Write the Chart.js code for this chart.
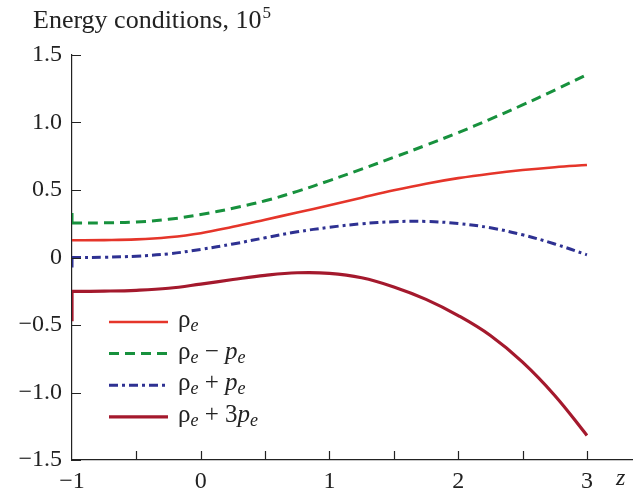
<!DOCTYPE html>
<html>
<head>
<meta charset="utf-8">
<script src="https://cdn.jsdelivr.net/npm/chart.js@4"></script>
<style>
  html, body { margin: 0; padding: 0; background: #fff; }
</style>
</head>
<body>
<canvas id="myChart" width="638" height="495"></canvas>
<script>
// values (units of 10^5)
const zValues = [-1, -0.75, -0.5, -0.25, 0, 0.25, 0.5, 0.75, 1, 1.25, 1.5, 1.75, 2, 2.25, 2.5, 2.75, 3];
const rho = [0.128, 0.129, 0.134, 0.15, 0.18, 0.228, 0.28, 0.333, 0.387, 0.443, 0.498, 0.547, 0.588, 0.621, 0.648, 0.669, 0.685];
const rhoMinusP = [0.256, 0.257, 0.263, 0.283, 0.318, 0.365, 0.42, 0.49, 0.57, 0.655, 0.742, 0.832, 0.925, 1.025, 1.13, 1.24, 1.355];
const rhoPlusP = [0, 0.002, 0.01, 0.027, 0.06, 0.1, 0.146, 0.19, 0.224, 0.25, 0.265, 0.267, 0.252, 0.22, 0.168, 0.1, 0.02];
const rhoPlus3P = [-0.251, -0.249, -0.243, -0.228, -0.197, -0.163, -0.132, -0.113, -0.117, -0.15, -0.218, -0.31, -0.43, -0.578, -0.775, -1.022, -1.318];
// short vertical jump at z = -1 (null = none)
const jumpStart = [null, 0.33, -0.074, -0.473];

const yTickValues = [-1.5, -1, -0.5, 0, 0.5, 1, 1.5];
const yTickLabels = ["\u22121.5", "\u22121.0", "\u22120.5", "0", "0.5", "1.0", "1.5"];
const xTickValues = [-1, 0, 1, 2, 3];
const xTickLabels = ["\u22121", "0", "1", "2", "3"];

const colors = ["#e5352a", "#17913d", "#2e3192", "#a4192d"];
const dashes = [[], [10, 6], [9, 4, 3, 4], []];
const widths = [2.6, 3, 3, 3.2];
const series = [rho, rhoMinusP, rhoPlusP, rhoPlus3P];

// legend text pieces: n = normal, i = italic, s = italic subscript
const legendParts = [
  [["ρ", "n"], ["e", "s"]],
  [["ρ", "n"], ["e", "s"], [" \u2212 ", "n"], ["p", "i"], ["e", "s"]],
  [["ρ", "n"], ["e", "s"], [" + ", "n"], ["p", "i"], ["e", "s"]],
  [["ρ", "n"], ["e", "s"], [" + 3", "n"], ["p", "i"], ["e", "s"]],
];

const FONT = "'Liberation Serif', 'Times New Roman', serif";

const datasets = [];
series.forEach((vals, k) => {
  datasets.push({
    data: zValues.map((z, i) => ({ x: z, y: vals[i] })),
    borderColor: colors[k],
    borderWidth: widths[k],
    borderDash: dashes[k],
    pointRadius: 0,
    tension: 0.4,
  });
  if (jumpStart[k] !== null) {
    datasets.push({
      data: [{ x: zValues[0], y: jumpStart[k] }, { x: zValues[0], y: vals[0] }],
      borderColor: colors[k],
      borderWidth: widths[k],
      pointRadius: 0,
      tension: 0,
    });
  }
});

// inward tick marks, title, legend and the z label
const decorations = {
  id: "decorations",
  afterDraw(chart) {
    const c = chart.ctx;
    const xs = chart.scales.x, ys = chart.scales.y;
    const area = chart.chartArea;
    c.save();
    c.strokeStyle = "#222";
    c.lineWidth = 1.2;
    c.beginPath();
    for (let v = -0.5; v <= 3; v += 0.5) {
      const px = Math.round(xs.getPixelForValue(v)) + 0.5;
      c.moveTo(px, area.bottom);
      c.lineTo(px, area.bottom - 9);
    }
    yTickValues.forEach(v => {
      const py = Math.round(ys.getPixelForValue(v)) + 0.5;
      c.moveTo(area.left, py);
      c.lineTo(area.left + 9, py);
    });
    c.stroke();

    c.fillStyle = "#222";
    c.textBaseline = "alphabetic";
    c.font = "26px " + FONT;
    c.fillText("Energy conditions, 10", 33, 28);
    const w = c.measureText("Energy conditions, 10").width;
    c.font = "17px " + FONT;
    c.fillText("5", 33 + w + 1, 18);

    c.font = "italic 24px " + FONT;
    c.textBaseline = "middle";
    c.fillText("z", 616, xs.bottom - 16);

    // legend
    legendParts.forEach((parts, k) => {
      const y = 322 + k * 31.6;
      c.beginPath();
      c.strokeStyle = colors[k];
      c.lineWidth = widths[k];
      c.setLineDash(dashes[k]);
      c.moveTo(109, y);
      c.lineTo(168, y);
      c.stroke();
      c.setLineDash([]);
      let x = 178;
      c.textBaseline = "alphabetic";
      parts.forEach(([t, s]) => {
        let dy = 5;
        if (s === "n") c.font = "25px " + FONT;
        if (s === "i") c.font = "italic 25px " + FONT;
        if (s === "s") { c.font = "italic 18px " + FONT; dy = 9; }
        c.fillStyle = "#222";
        c.fillText(t, x, y + dy);
        x += c.measureText(t).width;
      });
    });
    c.restore();
  },
};

new Chart(document.getElementById("myChart"), {
  type: "scatter",
  data: { datasets: datasets.map(d => Object.assign({ showLine: true }, d)) },
  options: {
    responsive: false,
    animation: false,
    devicePixelRatio: 1,
    layout: { padding: { top: 55, right: 6, left: 0, bottom: 0 } },
    plugins: { legend: { display: false }, tooltip: { enabled: false } },
    scales: {
      x: {
        type: "linear",
        min: -1,
        max: 3.35,
        afterFit: s => { s.height = 35; },
        afterBuildTicks: s => { s.ticks = xTickValues.map(v => ({ value: v })); },
        grid: { display: false, drawTicks: false },
        border: { display: true, color: "#222", width: 1.2 },
        ticks: {
          padding: 7,
          color: "#222",
          font: { family: FONT, size: 24 },
          maxRotation: 0,
          callback: v => xTickLabels[xTickValues.indexOf(v)],
        },
      },
      y: {
        min: -1.5,
        max: 1.5,
        afterFit: s => { s.width = 72; },
        afterBuildTicks: s => { s.ticks = yTickValues.map(v => ({ value: v })); },
        grid: { display: false, drawTicks: false },
        border: { display: true, color: "#222", width: 1.2 },
        ticks: {
          padding: 10,
          color: "#222",
          font: { family: FONT, size: 24 },
          callback: v => yTickLabels[yTickValues.indexOf(v)],
        },
      },
    },
  },
  plugins: [decorations],
});
</script>
</body>
</html>
